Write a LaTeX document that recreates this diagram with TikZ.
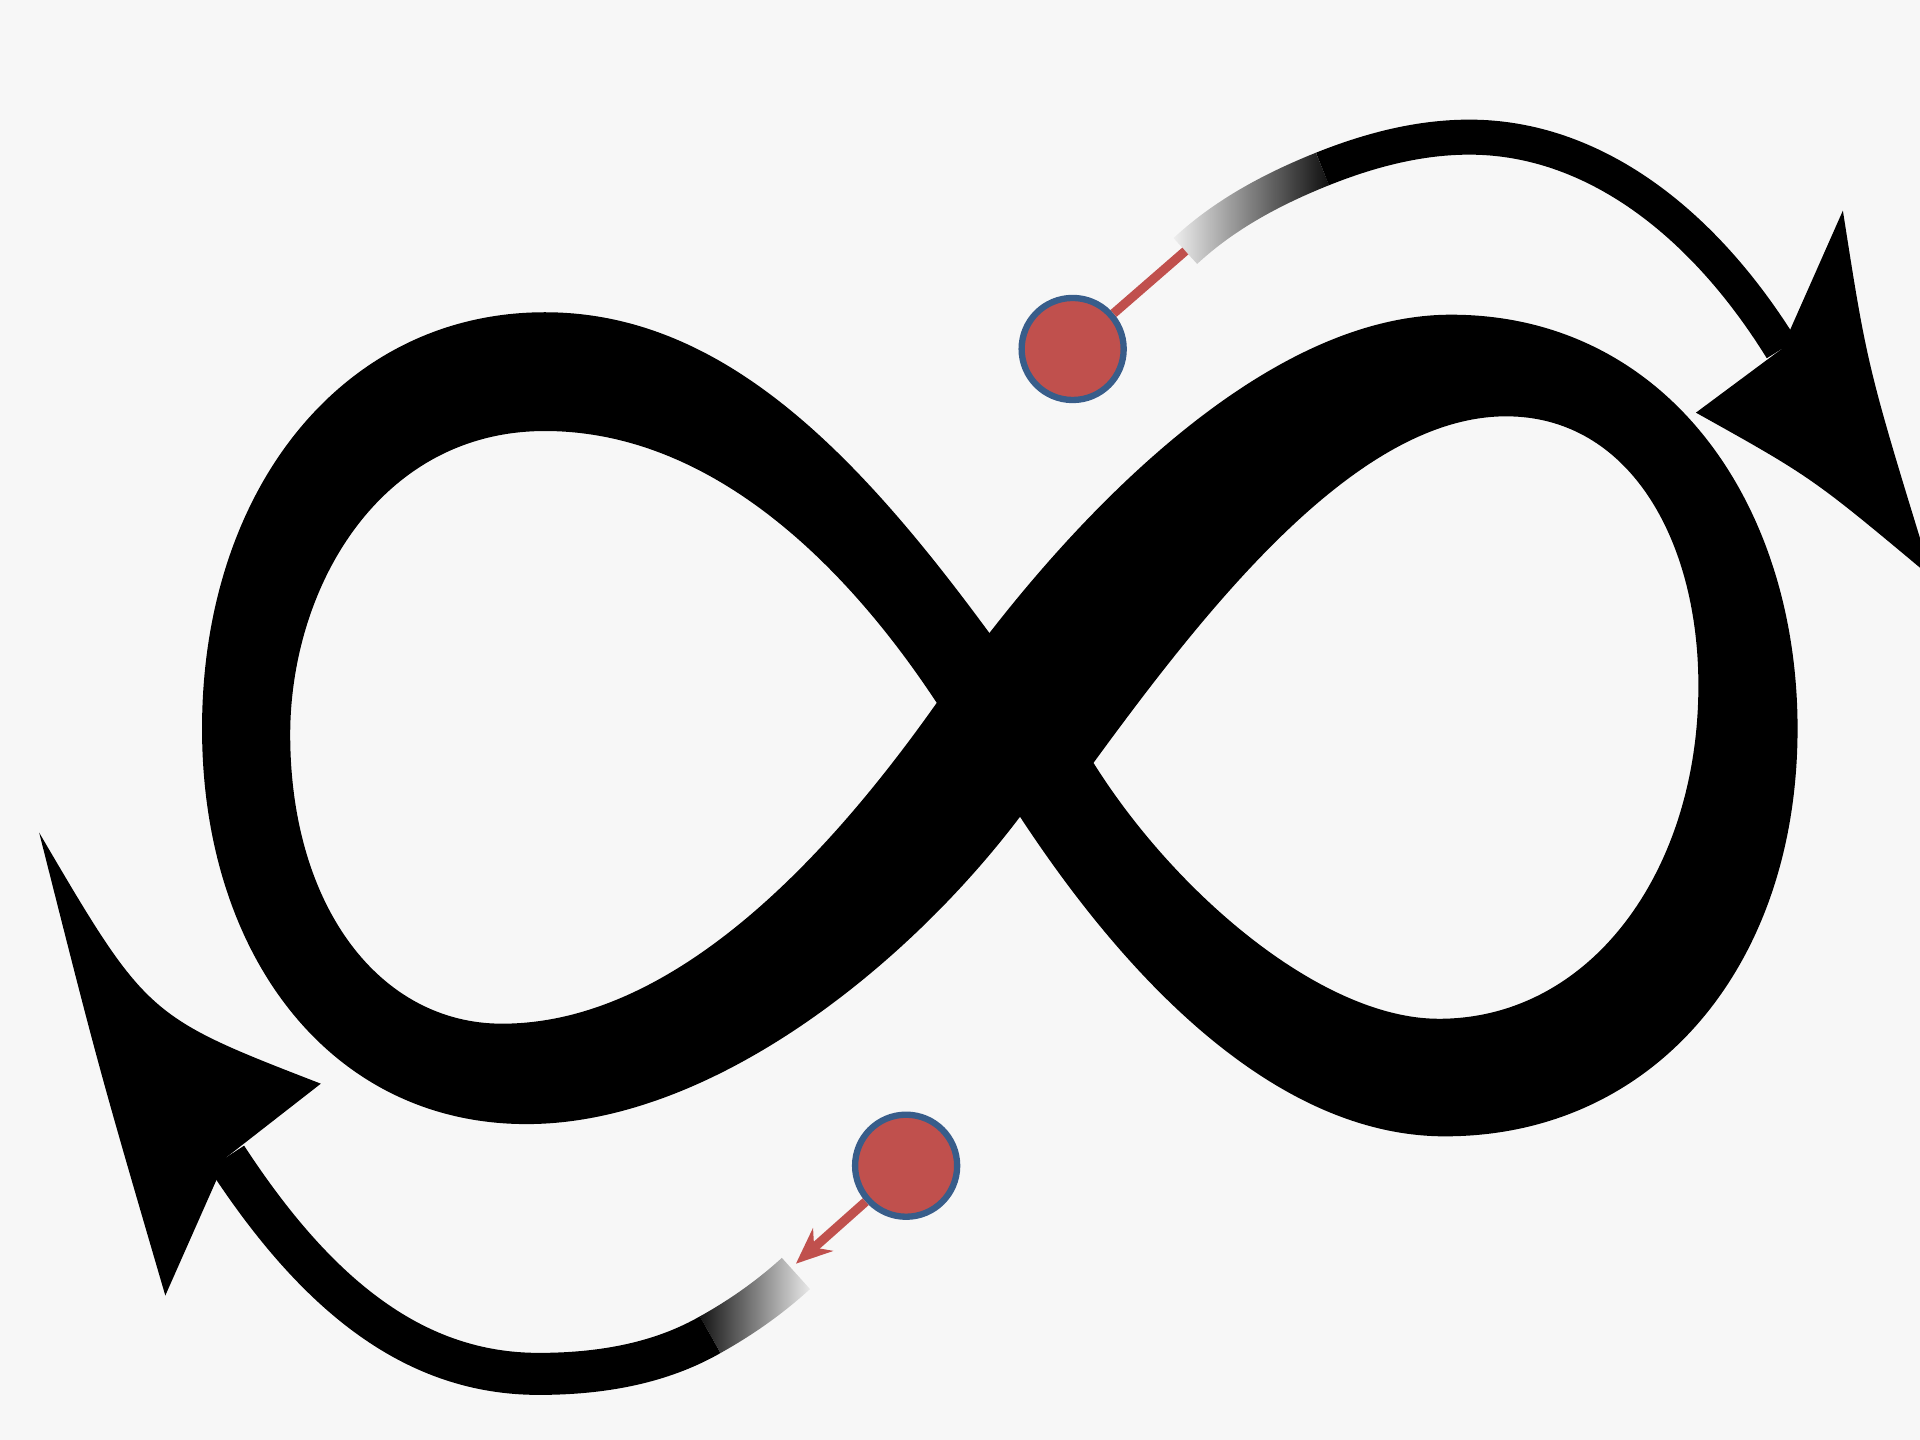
\documentclass[tikz,border=0pt]{standalone}
\usetikzlibrary{arrows.meta, fadings}

\definecolor{fond}{RGB}{247,247,247}
\definecolor{rouge}{RGB}{192,80,77}
\definecolor{bleu}{RGB}{56,93,138}

\begin{document}
\begin{tikzpicture}[x=0.012245cm, y=-0.012245cm,
  point/.style={circle, fill=rouge, draw=bleu, line width=1.8pt, minimum size=1.02cm, inner sep=0pt},
  trait/.style={draw=rouge, line width=2.6pt}]

\def\fin{0.35cm}
\def\moyen{0.42cm}

\fill[fond] (0,0) rectangle (1568,1176);
\clip (0,0) rectangle (1568,1176);

% le symbole infini : contour exterieur puis les deux trous
\fill[even odd rule]
  (808,517) .. controls (895,405) and (1040,257) .. (1185,257)
  .. controls (1360,257) and (1468,410) .. (1468,595)
  .. controls (1468,790) and (1350,928) .. (1180,928)
  .. controls (1060,928) and (940,830) .. (833,667)
  .. controls (740,790) and (580,918) .. (430,918)
  .. controls (270,918) and (165,780) .. (165,595)
  .. controls (165,400) and (280,255) .. (445,255)
  .. controls (590,255) and (700,370) .. (808,517) -- cycle
  (765,574) .. controls (690,460) and (580,352) .. (445,352)
  .. controls (310,352) and (237,480) .. (237,600)
  .. controls (237,740) and (310,836) .. (410,836)
  .. controls (560,836) and (690,680) .. (765,574) -- cycle
  (893,623) .. controls (990,490) and (1110,340) .. (1230,340)
  .. controls (1330,340) and (1387,440) .. (1387,560)
  .. controls (1387,710) and (1300,832) .. (1175,832)
  .. controls (1080,832) and (960,730) .. (893,623) -- cycle;

% fleche du haut
\draw[line width=\fin, path fading=west]
  (968,205) .. controls (995,180) and (1030,158) .. (1080,138);
\draw[line width=\fin]
  (1080,138) .. controls (1120,122) and (1160,112) .. (1200,112)
  .. controls (1300,112) and (1390,180) .. (1455,285);
\fill (1505,172) .. controls (1525,300) .. (1578,472)
  .. controls (1480,390) .. (1385,337) -- (1455,285) -- cycle;

% fleche du bas
\draw[line width=\moyen]
  (185,945) .. controls (260,1060) and (340,1122) .. (440,1122)
  .. controls (500,1122) and (545,1110) .. (580,1090);
\draw[line width=\moyen, path fading=east]
  (580,1090) .. controls (605,1076) and (628,1060) .. (650,1040);
\fill (32,680) .. controls (120,830) .. (262,885)
  -- (185,945) -- (135,1058) .. controls (80,870) .. cycle;

% les deux points
\node[point] (haut) at (876,285) {};
\node[point] (bas) at (740,952) {};
\coordinate (finhaut) at (968,205);
\coordinate (finbas) at (650,1032);

\draw[trait] (haut) -- (finhaut);
\draw[trait, -{Stealth[length=0.36cm, width=0.3cm]}] (bas) -- (finbas);

\end{tikzpicture}
\end{document}
